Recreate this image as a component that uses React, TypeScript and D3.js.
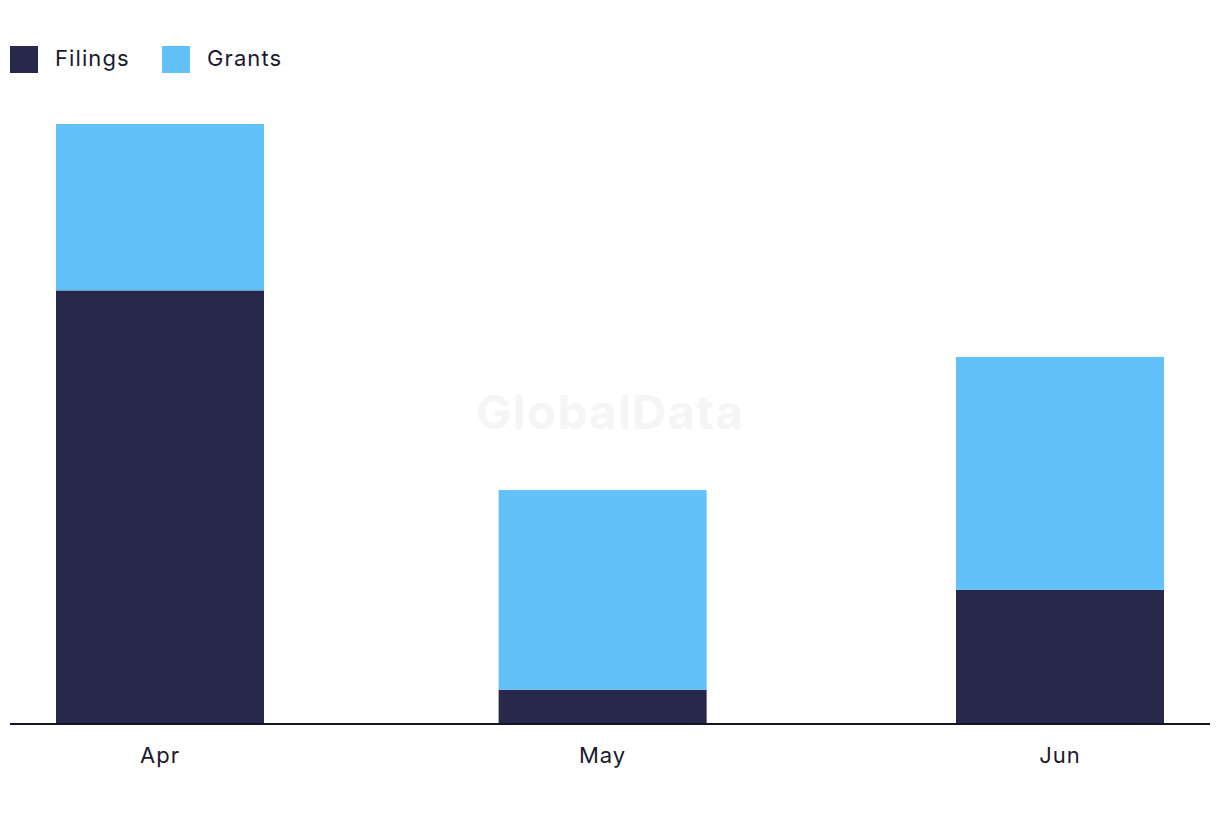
import React, { useEffect, useRef } from 'react';
import * as d3 from 'd3';

const months = ['2023-04-01', '2023-05-01', '2023-06-01'];
const monthLabels = ['Apr', 'May', 'Jun'];
const filings = [13, 1, 4];
const grants = [5, 6, 7];
const seriesNames = ['Filings', 'Grants'];
const seriesColors = ['#27284a', '#62c1f8'];

const W = 1220;
const H = 822;

const App: React.FC = () => {
  const svgRef = useRef<SVGSVGElement | null>(null);

  useEffect(() => {
    if (!svgRef.current) return;
    const svg = d3.select(svgRef.current);
    svg.selectAll('*').remove();

    const dates = months.map((m) => new Date(m + 'T00:00:00Z'));
    const x = d3
      .scaleUtc()
      .domain([dates[0], dates[dates.length - 1]])
      .range([160, 1060]);
    const y = d3.scaleLinear().domain([0, 18]).range([723, 124]);
    const barW = 208;

    const rows = dates.map((d, i) => ({ date: d, Filings: filings[i], Grants: grants[i] }));
    const stack = d3.stack<any>().keys(seriesNames);
    const layers = stack(rows);

    // watermark
    svg
      .append('text')
      .attr('x', 610)
      .attr('y', 429)
      .attr('text-anchor', 'middle')
      .style('font-family', 'Inter, sans-serif')
      .style('font-weight', 700)
      .style('font-size', '47px')
      .style('letter-spacing', '1.5px')
      .style('fill', '#f5f5f5')
      .text('GlobalData');

    svg
      .selectAll('g.layer')
      .data(layers)
      .enter()
      .append('g')
      .attr('class', 'layer')
      .attr('fill', (_d, i) => seriesColors[i])
      .selectAll('rect')
      .data((d) => d)
      .enter()
      .append('rect')
      .attr('x', (d: any) => x(d.data.date) - barW / 2)
      .attr('width', barW)
      .attr('y', (d) => y(d[1]))
      .attr('height', (d) => y(d[0]) - y(d[1]));

    // axis line
    svg
      .append('line')
      .attr('x1', 10)
      .attr('x2', 1210)
      .attr('y1', 724)
      .attr('y2', 724)
      .attr('stroke', '#14142b')
      .attr('stroke-width', 2);

    svg
      .selectAll('text.tick')
      .data(dates)
      .enter()
      .append('text')
      .attr('class', 'tick')
      .attr('x', (d) => x(d))
      .attr('y', 763)
      .attr('text-anchor', 'middle')
      .style('font-family', 'Inter, sans-serif')
      .style('font-size', '22px')
      .style('letter-spacing', '1px')
      .style('fill', '#1a1a2e')
      .text((_d, i) => monthLabels[i]);

    // legend
    const legendX = [10, 162];
    const legend = svg
      .selectAll('.legend')
      .data(seriesNames)
      .enter()
      .append('g')
      .attr('class', 'legend')
      .attr('transform', (_d, i) => `translate(${legendX[i]},46)`);

    legend
      .append('rect')
      .attr('width', 28)
      .attr('height', 27)
      .attr('fill', (_d, i) => seriesColors[i]);

    legend
      .append('text')
      .attr('x', 45)
      .attr('y', 20)
      .style('font-family', 'Inter, sans-serif')
      .style('font-size', '22px')
      .style('letter-spacing', '1.1px')
      .style('fill', '#1a1a2e')
      .text((d) => d);
  }, []);

  return (
    <svg
      ref={svgRef}
      width={W}
      height={H}
      viewBox={`0 0 ${W} ${H}`}
      style={{ position: 'absolute', left: 0, top: 0, background: '#fff' }}
    ></svg>
  );
};

export default App;
